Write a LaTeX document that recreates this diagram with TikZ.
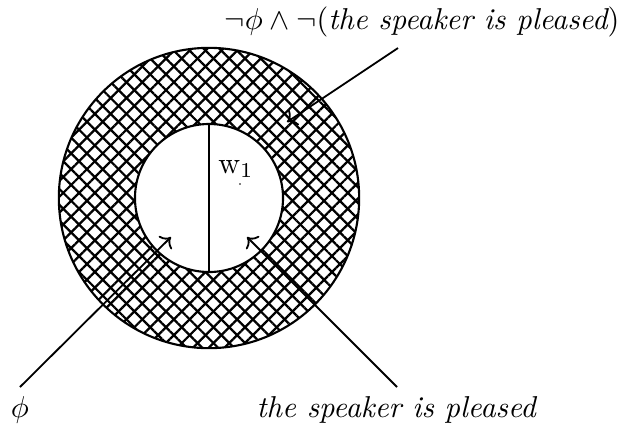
\documentclass[tikz,border=0pt]{standalone}
\usetikzlibrary{patterns.meta,arrows.meta}
\begin{document}
\begin{tikzpicture}[x=0.331pt,y=-0.331pt,
  ring/.style={draw, circle, line width=0.7pt, inner sep=0pt},
  pointer/.style={->, line width=0.6pt},
  lbl/.style={inner sep=3pt}]
\useasboundingbox (0,0) rectangle (628,430);
\coordinate (c) at (209,198);
\fill[pattern={Lines[angle=45,distance=3.7pt,line width=0.75pt]}, even odd rule] (c) circle (49.7pt) (c) circle (24.5pt);
\fill[pattern={Lines[angle=-45,distance=3.7pt,line width=0.75pt]}, even odd rule] (c) circle (49.7pt) (c) circle (24.5pt);
\node[ring, minimum size=99.4pt] (outer) at (c) {};
\node[ring, minimum size=49pt] (inner) at (c) {};
\draw[line width=0.6pt] (inner.north) -- (inner.south);
\coordinate (w) at (240,184);
\fill (w) circle (0.3pt);
\node[lbl] (wlbl) at (236,169) {$\mathrm{w}_1$};
\coordinate (phitail) at (20,387);
\coordinate (phitip) at (171,237);
\coordinate (sptail) at (397,387);
\coordinate (sptip) at (247,237);
\coordinate (negtail) at (398,48);
\coordinate (negtip) at (287,122);
\draw[pointer] (phitail) -- (phitip);
\draw[pointer] (sptail) -- (sptip);
\draw[pointer] (negtail) -- (negtip);
\node[lbl, anchor=north] (philbl) at (phitail) {$\phi$};
\node[lbl, anchor=north] (splbl) at (sptail) {\textit{the speaker is pleased}};
\node[lbl, anchor=base] (neglbl) at (422,29.5) {$\neg\phi\wedge\neg(\textit{the speaker is pleased})$};
\end{tikzpicture}
\end{document}
